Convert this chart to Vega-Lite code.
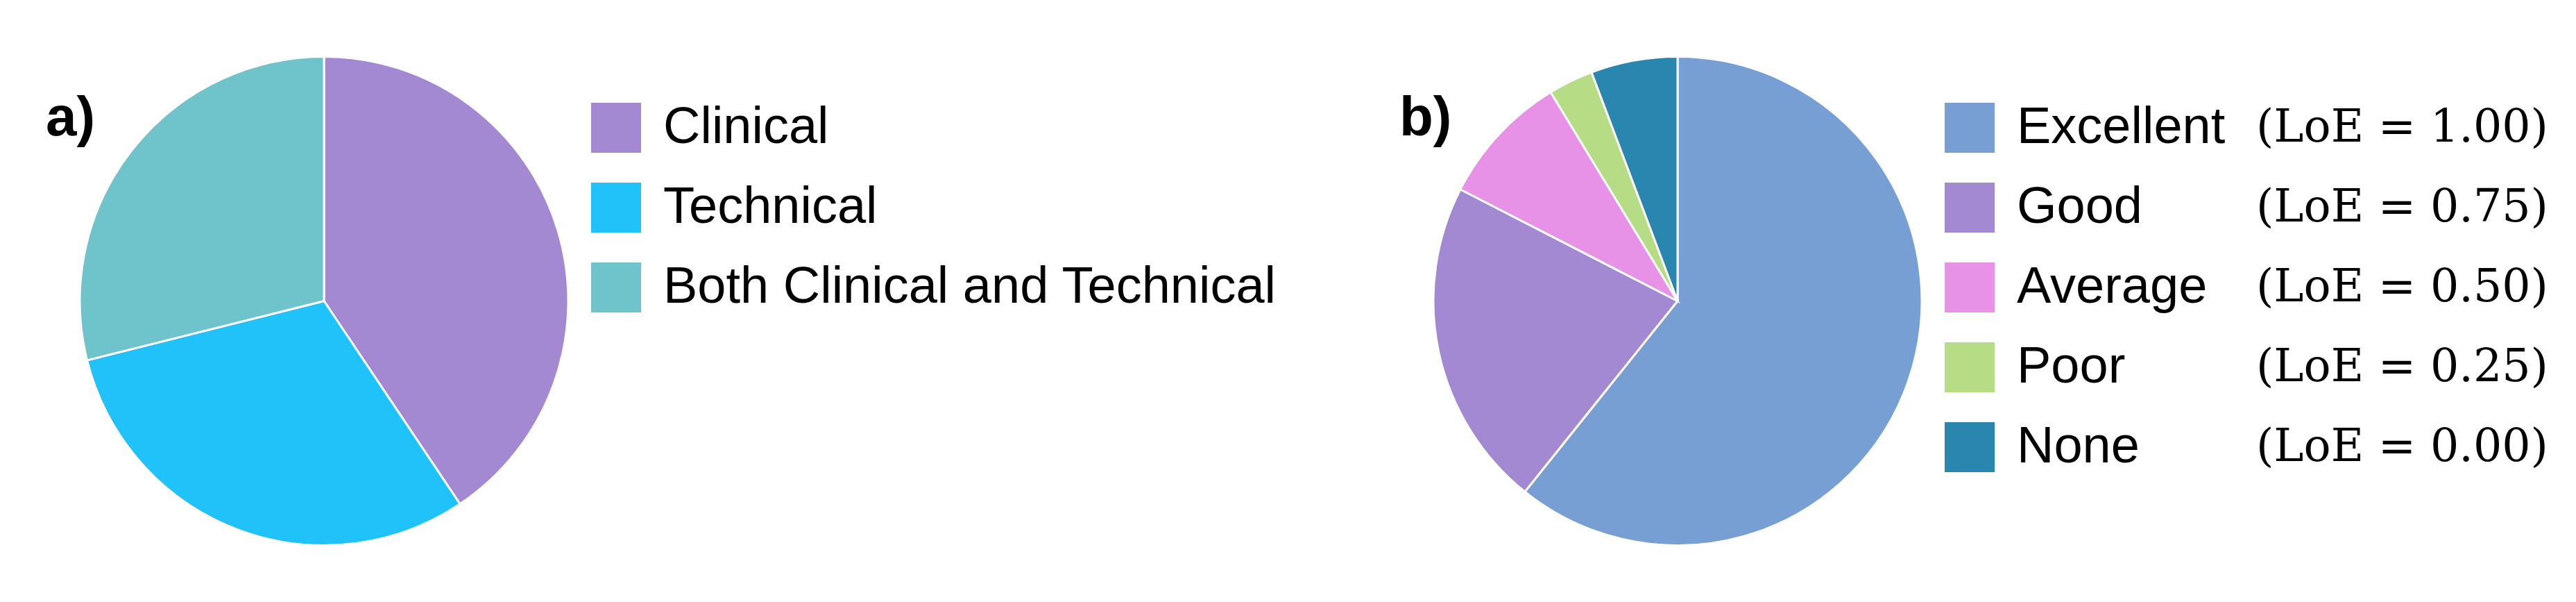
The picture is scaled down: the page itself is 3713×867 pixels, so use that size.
{
  "$schema": "https://vega.github.io/schema/vega-lite/v6.json",
  "width": 3713,
  "height": 867,
  "padding": 0,
  "autosize": {"type": "none"},
  "background": "white",
  "config": {"view": {"stroke": null}, "font": "Liberation Sans"},
  "layer": [
    {
      "data": {"values": [
        {"category": "Clinical", "share": 40.6, "i": 1},
        {"category": "Technical", "share": 30.5, "i": 2},
        {"category": "Both Clinical and Technical", "share": 28.9, "i": 3}
      ]},
      "mark": {"type": "arc", "outerRadius": 352, "stroke": "white", "strokeWidth": 3},
      "encoding": {
        "x": {"datum": "a", "type": "nominal", "scale": {"type": "point", "domain": ["a", "b"], "range": [467, 2418], "padding": 0}, "axis": null},
        "theta": {"field": "share", "type": "quantitative", "stack": true},
        "order": {"field": "i", "type": "quantitative"},
        "color": {
          "field": "category", "type": "nominal",
          "scale": {"domain": ["Clinical", "Technical", "Both Clinical and Technical"], "range": ["#A389D1", "#1FC3FA", "#6FC4CB"]},
          "legend": {"title": null, "orient": "none", "legendX": 851, "legendY": 147, "symbolType": "square", "symbolSize": 5184, "symbolStrokeWidth": 0, "labelFontSize": 74, "labelFont": "Liberation Sans", "labelColor": "black", "labelOffset": 31, "rowPadding": 41, "labelLimit": 3000, "padding": 0}
        }
      }
    },
    {
      "data": {"values": [
        {"level": "Excellent", "loe": "(LoE = 1.00)", "share": 60.75, "i": 1},
        {"level": "Good", "loe": "(LoE = 0.75)", "share": 21.8, "i": 2},
        {"level": "Average", "loe": "(LoE = 0.50)", "share": 8.75, "i": 3},
        {"level": "Poor", "loe": "(LoE = 0.25)", "share": 2.97, "i": 4},
        {"level": "None", "loe": "(LoE = 0.00)", "share": 5.73, "i": 5}
      ]},
      "mark": {"type": "arc", "outerRadius": 352, "strokeWidth": 3},
      "encoding": {
        "x": {"datum": "b", "type": "nominal", "axis": null},
        "theta": {"field": "share", "type": "quantitative", "stack": true},
        "order": {"field": "i", "type": "quantitative"},
        "color": {
          "field": "level", "type": "nominal",
          "scale": {"domain": ["Excellent", "Good", "Average", "Poor", "None"], "range": ["#789FD3", "#A389D1", "#E791E7", "#B6DC86", "#2987AF"]},
          "legend": {"title": null, "orient": "none", "legendX": 2802, "legendY": 147, "symbolType": "square", "symbolSize": 5184, "symbolStrokeWidth": 0, "labelFontSize": 74, "labelFont": "Liberation Sans", "labelColor": "black", "labelOffset": 31, "rowPadding": 41, "labelLimit": 3000, "padding": 0}
        },
        "stroke": {
          "field": "loe", "type": "nominal",
          "scale": {"domain": ["(LoE = 1.00)", "(LoE = 0.75)", "(LoE = 0.50)", "(LoE = 0.25)", "(LoE = 0.00)"], "range": ["white", "white", "white", "white", "white"]},
          "legend": {"title": null, "orient": "none", "legendX": 3176, "legendY": 148, "symbolType": "square", "symbolSize": 5184, "symbolOpacity": 0, "symbolStrokeWidth": 0, "labelFontSize": 65, "labelFont": "DejaVu Serif", "labelColor": "black", "labelOffset": 4, "rowPadding": 43, "labelLimit": 3000, "padding": 0}
        }
      }
    },
    {
      "data": {"values": [
        {"panel": "a", "label": "a)"},
        {"panel": "b", "label": "b)"}
      ]},
      "mark": {"type": "text", "align": "left", "baseline": "alphabetic", "dx": -401, "dy": -239, "fontSize": 80, "fontWeight": "bold", "font": "Liberation Sans", "color": "black"},
      "encoding": {
        "x": {"field": "panel", "type": "nominal", "axis": null},
        "text": {"field": "label"}
      }
    }
  ],
  "resolve": {"scale": {"color": "independent", "theta": "independent"}, "legend": {"color": "independent"}}
}
